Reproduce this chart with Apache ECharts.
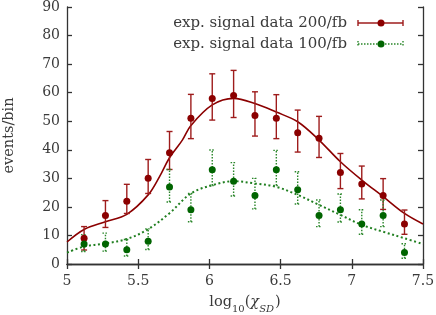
<!DOCTYPE html>
<html><head><meta charset="utf-8">
<script src="https://cdn.jsdelivr.net/npm/echarts@6/dist/echarts.min.js"></script>
<style>html,body{margin:0;padding:0;background:#fff}#c{width:436px;height:315px}</style>
</head><body><div id="c"></div>
<script>
// ---- data ----
const binCenters = [5.12, 5.27, 5.42, 5.57, 5.72, 5.87, 6.02, 6.17, 6.32, 6.47, 6.62, 6.77, 6.92, 7.07, 7.22, 7.37];

const signal200     = [9, 17, 22, 30, 39, 51, 58, 59, 52, 51, 46, 44, 32, 28, 24, 14];
const signal200Low  = [4.9, 12.8, 17.7, 24.7, 33.1, 43.9, 50.4, 51.3, 44.8, 43.9, 39.2, 37.3, 26.4, 22.8, 19.1, 10.4];
const signal200High = [13.1, 22.2, 27.9, 36.6, 46.4, 59.4, 66.6, 67.8, 60.3, 59.3, 53.9, 51.7, 38.7, 34.3, 29.9, 18.9];

const signal100     = [7, 7, 5, 8, 27, 19, 33, 29, 24, 33, 26, 17, 19, 14, 17, 4];
const signal100Low  = [4.4, 4.5, 2.8, 5.1, 21.7, 14.8, 27.5, 23.8, 19.3, 27.5, 21.0, 13.1, 14.7, 10.4, 13.1, 2.0];
const signal100High = [10.3, 10.8, 8.6, 12.3, 33.1, 24.7, 39.9, 35.5, 30.0, 39.8, 32.3, 22.4, 24.5, 19.0, 22.4, 7.1];

const fitX200 = [5.0, 5.12, 5.27, 5.42, 5.57, 5.65, 5.72, 5.81, 5.87, 6.02, 6.17, 6.32, 6.47, 6.62, 6.77, 6.92, 7.07, 7.22, 7.37, 7.5];
const fit200  = [7.7, 12.1, 14.8, 17.4, 24.2, 30.6, 37.2, 43.4, 48.5, 55.7, 58.0, 56.2, 53.2, 49.8, 43.4, 35.8, 29.4, 23.6, 17.7, 14.0];

const fitX100 = [5.0, 5.12, 5.27, 5.42, 5.57, 5.72, 5.87, 6.02, 6.17, 6.32, 6.47, 6.62, 6.77, 6.92, 7.07, 7.22, 7.37, 7.5];
const fit100  = [4.0, 6.1, 7.2, 8.75, 12.2, 17.8, 24.7, 27.6, 29.0, 28.2, 27.0, 24.2, 20.7, 17.2, 13.7, 11.3, 9.0, 7.0];

const xAxisRange = {min: 5, max: 7.5, interval: 0.5};
const yAxisRange = {min: 0, max: 90, interval: 10};

const legendLabels = ['exp. signal data 200/fb', 'exp. signal data 100/fb'];
// ---------------------------------------

const FONT = '"DejaVu Serif", "Liberation Serif", serif';
const TXT = '#3a3a3a';
const RED = '#8b0000', RED_BAR = '#9e1c1c';
const GREEN = '#006400', GREEN_BAR = '#2a862a', GREEN_FIT = '#207f20';

function zipPts(xs, ys){ return xs.map((x,i)=>[x, ys[i]]); }
function errData(xs, lo, hi){ return xs.map((x,i)=>[x, lo[i], hi[i]]); }

function errRender(color, dash){
  return function(params, api){
    const x = api.value(0);
    const p1 = api.coord([x, api.value(1)]);
    const p2 = api.coord([x, api.value(2)]);
    const hw = 3;
    const st = {stroke: color, lineWidth: 1.4, lineDash: dash};
    return {type:'group', children:[
      {type:'line', shape:{x1:p1[0], y1:p1[1], x2:p2[0], y2:p2[1]}, style:st},
      {type:'line', shape:{x1:p1[0]-hw, y1:p1[1], x2:p1[0]+hw, y2:p1[1]}, style:st},
      {type:'line', shape:{x1:p2[0]-hw, y1:p2[1], x2:p2[0]+hw, y2:p2[1]}, style:st}
    ]};
  };
}

const chart = echarts.init(document.getElementById('c'), null, {renderer:'canvas'});
const axisCommon = {
  axisLine:{show:true, lineStyle:{color:'#333', width:1.3}},
  axisTick:{show:true, inside:true, length:5, lineStyle:{color:'#333', width:1.3}},
  splitLine:{show:false}
};
const labelStyle = {fontFamily: FONT, fontSize: 14, color:TXT};

// legend sample positions (decoration)
const LX1 = 358, LX2 = 403, LY = [23, 44];

chart.setOption({
  animation:false,
  backgroundColor:'#fff',
  grid:{left:67, right:13, top:7, bottom:51, containLabel:false, outerBoundsMode:'none'},
  xAxis:[
    Object.assign({type:'value', position:'bottom', min:xAxisRange.min, max:xAxisRange.max, interval:xAxisRange.interval,
      axisLabel:Object.assign({margin:10}, labelStyle),
      name:'{n|log}{s|10}{n|(}{i|χ}{si|SD}{n|)}', nameLocation:'middle', nameGap:28,
      nameTextStyle:{fontFamily:FONT, color:TXT, rich:{
        n:{fontFamily:FONT, fontSize:14.5, color:TXT, verticalAlign:'bottom', lineHeight:18},
        s:{fontFamily:FONT, fontSize:10, color:TXT, verticalAlign:'bottom', lineHeight:12, padding:[0,0,-4,0]},
        i:{fontFamily:FONT, fontSize:14.5, fontStyle:'italic', color:TXT, verticalAlign:'bottom', lineHeight:18},
        si:{fontFamily:FONT, fontSize:10, fontStyle:'italic', color:TXT, verticalAlign:'bottom', lineHeight:12, padding:[0,1,-4,0]}
      }}
    }, axisCommon),
    Object.assign({type:'value', position:'top', min:xAxisRange.min, max:xAxisRange.max, interval:xAxisRange.interval,
      axisLabel:{show:false}}, axisCommon)
  ],
  yAxis:[
    Object.assign({type:'value', position:'left', min:yAxisRange.min, max:yAxisRange.max, interval:yAxisRange.interval,
      axisLabel:Object.assign({margin:7}, labelStyle),
      name:'events/bin', nameLocation:'middle', nameGap:50, nameRotate:90,
      nameTextStyle:Object.assign({}, labelStyle, {fontSize:14.5})
    }, axisCommon),
    Object.assign({type:'value', position:'right', min:yAxisRange.min, max:yAxisRange.max, interval:yAxisRange.interval,
      axisLabel:{show:false}}, axisCommon)
  ],
  series:[
    {type:'line', name:'fit200', data:zipPts(fitX200, fit200), smooth:0.35, showSymbol:false, symbol:'none',
      lineStyle:{color:RED, width:1.6}, z:2},
    {type:'line', name:'fit100', data:zipPts(fitX100, fit100), smooth:0.35, showSymbol:false, symbol:'none',
      lineStyle:{color:GREEN_FIT, width:2, type:[2,2.6]}, z:2},
    {type:'custom', name:'err200', data:errData(binCenters, signal200Low, signal200High),
      renderItem:errRender(RED_BAR, null), z:3},
    {type:'custom', name:'err100', data:errData(binCenters, signal100Low, signal100High),
      renderItem:errRender(GREEN_BAR, [1.5,1.5]), z:3},
    {type:'scatter', name:legendLabels[0], data:zipPts(binCenters, signal200), symbol:'circle', symbolSize:7,
      itemStyle:{color:RED, opacity:1}, z:4},
    {type:'scatter', name:legendLabels[1], data:zipPts(binCenters, signal100), symbol:'circle', symbolSize:7,
      itemStyle:{color:GREEN, opacity:1}, z:4}
  ],
  graphic:[
    {type:'text', x:347, y:LY[0], style:{text:legendLabels[0], font:'15px '+FONT, fill:TXT, align:'right', verticalAlign:'middle'}},
    {type:'text', x:347, y:LY[1], style:{text:legendLabels[1], font:'15px '+FONT, fill:TXT, align:'right', verticalAlign:'middle'}},
    {type:'line', shape:{x1:LX1, y1:LY[0], x2:LX2, y2:LY[0]}, style:{stroke:RED_BAR, lineWidth:1.4}},
    {type:'line', shape:{x1:LX1, y1:LY[0]-3, x2:LX1, y2:LY[0]+3}, style:{stroke:RED_BAR, lineWidth:1.4}},
    {type:'line', shape:{x1:LX2, y1:LY[0]-3, x2:LX2, y2:LY[0]+3}, style:{stroke:RED_BAR, lineWidth:1.4}},
    {type:'circle', shape:{cx:(LX1+LX2)/2+0.5, cy:LY[0], r:3.5}, style:{fill:RED}},
    {type:'line', shape:{x1:LX1, y1:LY[1], x2:LX2, y2:LY[1]}, style:{stroke:GREEN_BAR, lineWidth:1.4, lineDash:[1.5,1.5]}},
    {type:'line', shape:{x1:LX1, y1:LY[1]-3, x2:LX1, y2:LY[1]+3}, style:{stroke:GREEN_BAR, lineWidth:1.4, lineDash:[1.5,1.5]}},
    {type:'line', shape:{x1:LX2, y1:LY[1]-3, x2:LX2, y2:LY[1]+3}, style:{stroke:GREEN_BAR, lineWidth:1.4, lineDash:[1.5,1.5]}},
    {type:'circle', shape:{cx:(LX1+LX2)/2+0.5, cy:LY[1], r:3.5}, style:{fill:GREEN}}
  ]
});
</script>
</body></html>
